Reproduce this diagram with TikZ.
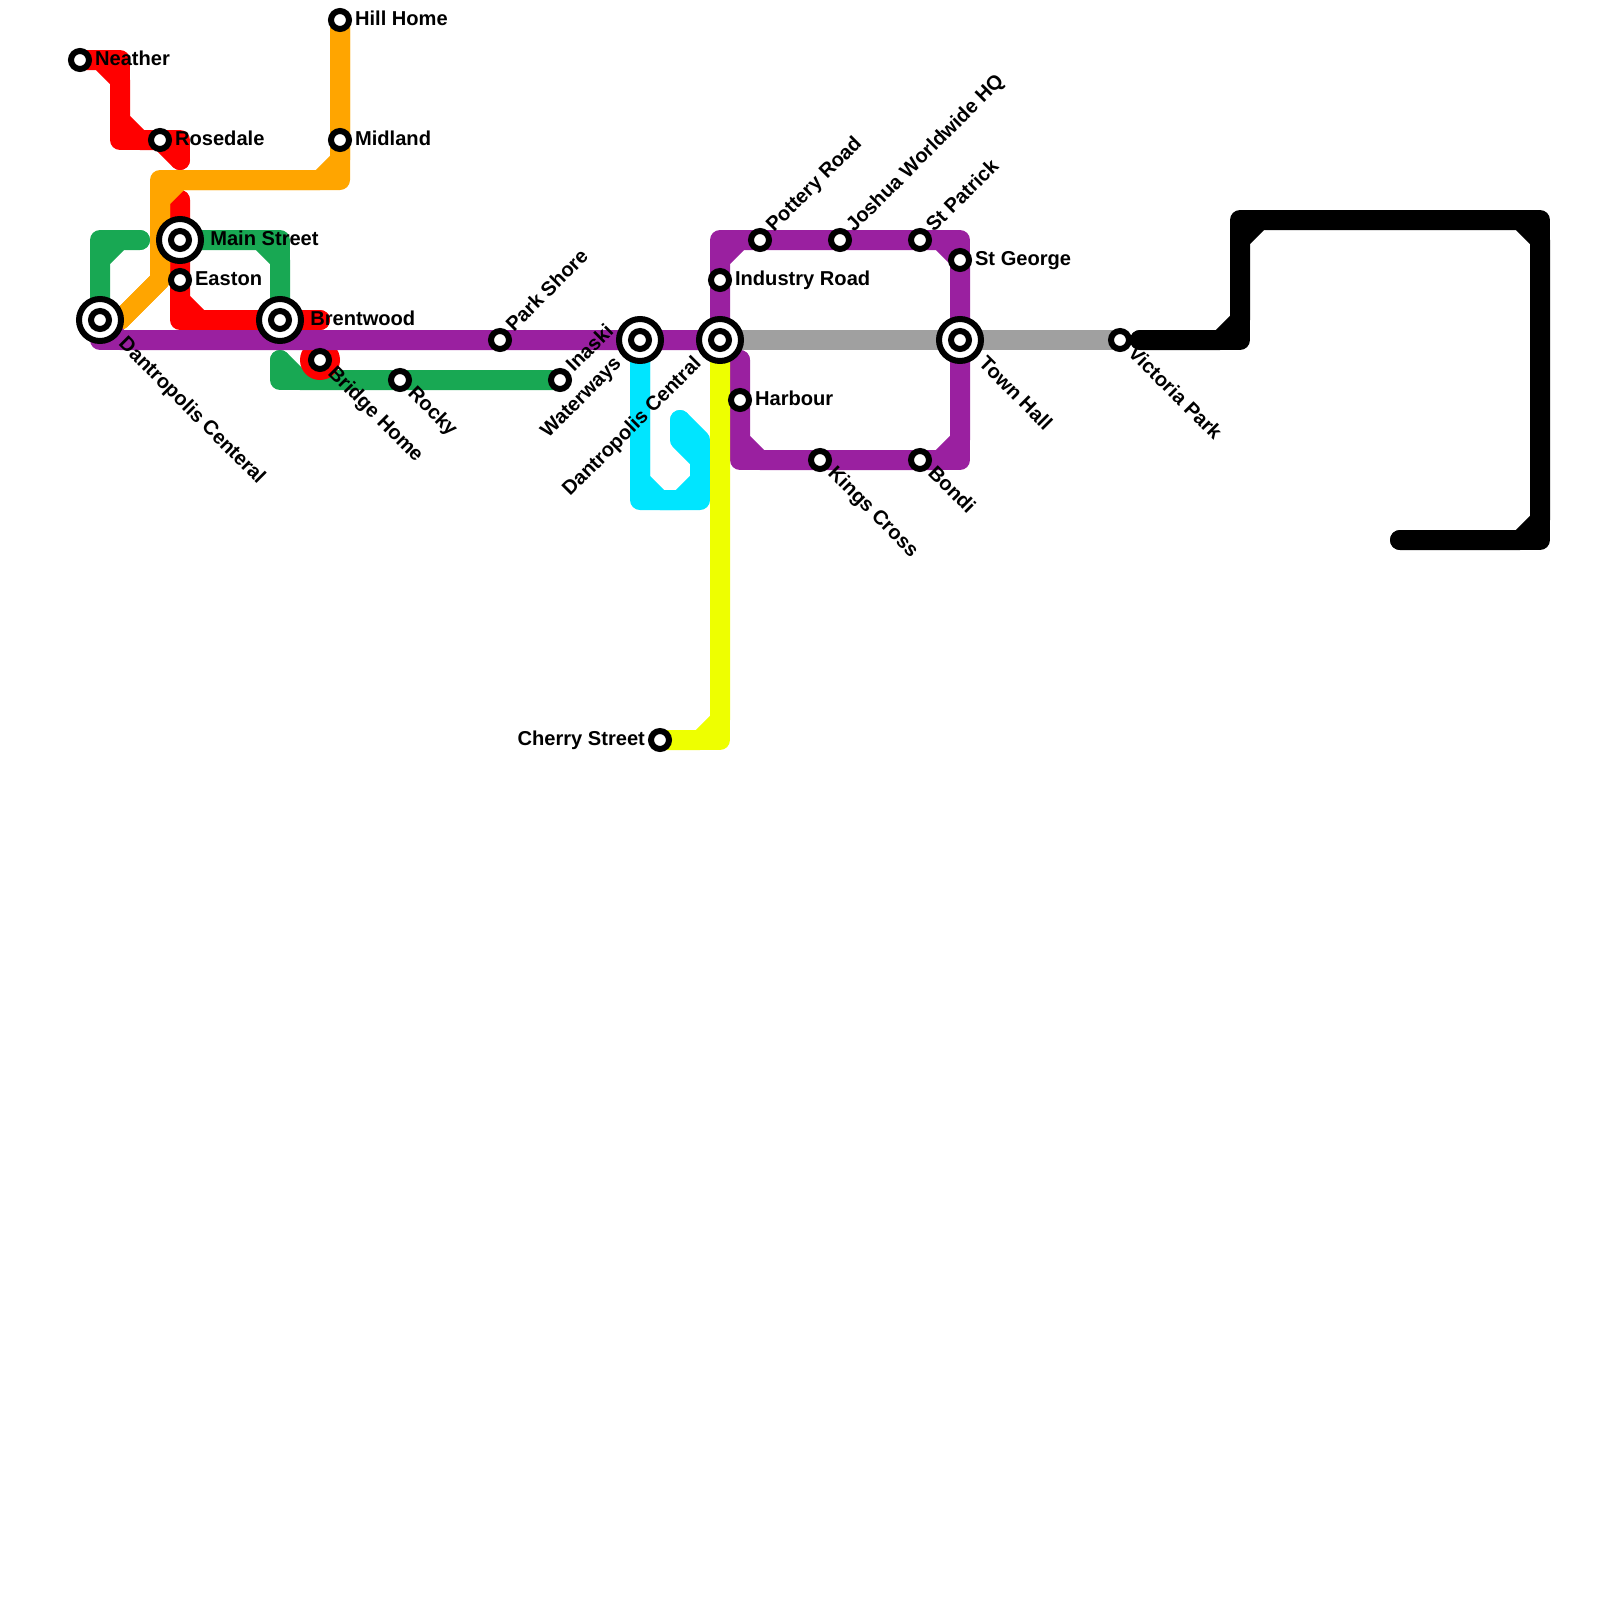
\documentclass[tikz,border=0pt]{standalone}
\usepackage{fontspec}
\setmainfont{Liberation Sans}
\usetikzlibrary{backgrounds}
\definecolor{line_red}{RGB}{255, 0, 0}
\definecolor{line_orange}{RGB}{255, 165, 0}
\definecolor{line_green}{RGB}{24, 168, 83}
\definecolor{line_purple}{RGB}{154, 32, 160}
\definecolor{line_gray}{RGB}{160, 160, 160}
\definecolor{line_cyan}{RGB}{0, 229, 255}
\definecolor{line_yellow}{RGB}{238, 255, 0}
\tikzset{
  metroline/.style={line width=0.5cm, line cap=round, line join=round},
  station/.style={circle, draw=black, fill=white, line width=0.15cm, inner sep=0pt, outer sep=0pt, minimum size=0.45cm},
  hub/.style={circle, draw=black, fill=white, line width=0.15cm, inner sep=0pt, outer sep=0pt, minimum size=1.05cm},
  stationtext/.style={font=\fontsize{14.3}{16}\selectfont\bfseries, inner sep=0pt},
  labelright/.style={stationtext, anchor=base west, xshift=#1, yshift=-0.125cm},
  labelright/.default=0.37cm,
  labelleft/.style={stationtext, anchor=base east, xshift=-#1, yshift=-0.125cm},
  labelleft/.default=0.37cm,
  labelup/.style={stationtext, rotate=45, anchor=base west, xshift=#1, yshift=-0.125cm},
  labelup/.default=0.37cm,
  labelupleft/.style={stationtext, rotate=45, anchor=base east, xshift=-#1, yshift=-0.125cm},
  labelupleft/.default=0.37cm,
  labeldown/.style={stationtext, rotate=-45, anchor=base west, xshift=#1, yshift=-0.125cm},
  labeldown/.default=0.37cm,
}
\begin{document}
\begin{tikzpicture}[x=0.5cm, y=-0.5cm]
      \useasboundingbox (0,0) rectangle (80,80);

      % 1. Stations
      \node[station] (neather) at (4,3) {};
      \node[station] (rosedale) at (8,7) {};
      \node[station] (hillhome) at (17,1) {};
      \node[station] (midland) at (17,7) {};
      \node[hub] (mainstreet) at (9,12) {};
      \node[station] (mainstreetcore) at (mainstreet) {};
      \node[station] (easton) at (9,14) {};
      \node[hub] (centeral) at (5,16) {};
      \node[station] (centeralcore) at (centeral) {};
      \node[hub] (brentwood) at (14,16) {};
      \node[station] (brentwoodcore) at (brentwood) {};
      \node[station] (bridgehome) at (16,18) {};
      \node[station] (rocky) at (20,19) {};
      \node[station] (parkshore) at (25,17) {};
      \node[station] (inaski) at (28,19) {};
      \node[hub] (waterways) at (32,17) {};
      \node[station] (waterwayscore) at (waterways) {};
      \node[hub] (central) at (36,17) {};
      \node[station] (centralcore) at (central) {};
      \node[station] (industry) at (36,14) {};
      \node[station] (pottery) at (38,12) {};
      \node[station] (joshua) at (42,12) {};
      \node[station] (stpatrick) at (46,12) {};
      \node[station] (stgeorge) at (48,13) {};
      \node[hub] (townhall) at (48,17) {};
      \node[station] (townhallcore) at (townhall) {};
      \node[station] (harbour) at (37,20) {};
      \node[station] (kingscross) at (41,23) {};
      \node[station] (bondi) at (46,23) {};
      \node[station] (victoria) at (56,17) {};
      \node[station] (cherry) at (33,37) {};

      % 2. Lines, each one square and then with its corners cut
      \begin{scope}[on background layer]
      % Green
      \draw[metroline, line_green] (7,12) -- (5,12) -- (centeral.center);
      \draw[metroline, line_green] (7,12) -- (6,12) -- (5,13) -- (centeral.center);
      \draw[metroline, line_green] (mainstreet.center) -- (14,12) -- (brentwood.center);
      \draw[metroline, line_green] (mainstreet.center) -- (13,12) -- (14,13) -- (brentwood.center);
      \draw[metroline, line_green] (14,18) -- (14,19) -- (inaski.center);
      \draw[metroline, line_green] (14,18) -- (15,19) -- (inaski.center);

      % Red
      \draw[metroline, line_red] (neather.center) -- (6,3) -- (6,7) -- (9,7) -- (9,8);
      \draw[metroline, line_red] (neather.center) -- (5,3) -- (6,4) -- (6,6) -- (7,7) -- (8,7) -- (9,8);
      \draw[metroline, line_red] (9,10) -- (9,16) -- (16,16);
      \draw[metroline, line_red] (9,10) -- (9,15) -- (10,16) -- (16,16);
      \fill[line_red] (bridgehome.center) circle (0.5cm);

      % Orange
      \draw[metroline, line_orange] (hillhome.center) -- (17,9) -- (8,9) -- (8,14) -- (6,16);
      \draw[metroline, line_orange] (hillhome.center) -- (17,8) -- (16,9) -- (9,9) -- (8,10) -- (8,14) -- (6,16);

      % Gray
      \draw[metroline, line_gray] (central.center) -- (victoria.center);

      % Purple
      \draw[metroline, line_purple] (centeral.center) -- (5,17) -- (central.center) -- (36,12) -- (48,12) -- (48,23) -- (37,23) -- (37,18) -- (36,18);
      \draw[metroline, line_purple] (centeral.center) -- (6,17) -- (central.center) -- (36,13) -- (37,12) -- (47,12) -- (48,13) -- (48,22) -- (47,23) -- (38,23) -- (37,22) -- (37,18);

      % Cyan
      \draw[metroline, line_cyan] (waterways.center) -- (32,25) -- (35,25) -- (35,22) -- (34,21);
      \draw[metroline, line_cyan] (waterways.center) -- (32,24) -- (33,25) -- (34,25) -- (35,24) -- (35,23) -- (34,22) -- (34,21);

      % Yellow
      \draw[metroline, line_yellow] (central.center) -- (36,37) -- (cherry.center);
      \draw[metroline, line_yellow] (central.center) -- (36,36) -- (35,37) -- (cherry.center);

      % Black
      \draw[metroline, black] (70,27) -- (77,27) -- (77,11) -- (62,11) -- (62,17) -- (57,17);
      \draw[metroline, black] (70,27) -- (76,27) -- (77,26) -- (77,12) -- (76,11) -- (63,11) -- (62,12) -- (62,16) -- (61,17) -- (57,17);
      \end{scope}

      % 3. Station names
      \node[labelright] (neatherlabel) at (neather) {Neather};
      \node[labelright] (rosedalelabel) at (rosedale) {Rosedale};
      \node[labelright] (hillhomelabel) at (hillhome) {Hill Home};
      \node[labelright] (midlandlabel) at (midland) {Midland};
      \node[labelright=0.75cm] (mainstreetlabel) at (mainstreet) {Main Street};
      \node[labelright] (eastonlabel) at (easton) {Easton};
      \node[labeldown=0.75cm] (centerallabel) at (centeral) {Dantropolis Centeral};
      \node[labelright=0.75cm] (brentwoodlabel) at (brentwood) {Brentwood};
      \node[labeldown] (bridgehomelabel) at (bridgehome) {Bridge Home};
      \node[labeldown] (rockylabel) at (rocky) {Rocky};
      \node[labelup] (parkshorelabel) at (parkshore) {Park Shore};
      \node[labelup] (inaskilabel) at (inaski) {Inaski};
      \node[labelupleft=0.75cm] (waterwayslabel) at (waterways) {Waterways};
      \node[labelupleft=0.75cm] (centrallabel) at (central) {Dantropolis Central};
      \node[labelright] (industrylabel) at (industry) {Industry Road};
      \node[labelup] (potterylabel) at (pottery) {Pottery Road};
      \node[labelup] (joshualabel) at (joshua) {Joshua Worldwide HQ};
      \node[labelup] (stpatricklabel) at (stpatrick) {St Patrick};
      \node[labelright] (stgeorgelabel) at (stgeorge) {St George};
      \node[labeldown=0.75cm] (townhalllabel) at (townhall) {Town Hall};
      \node[labelright] (harbourlabel) at (harbour) {Harbour};
      \node[labeldown] (kingscrosslabel) at (kingscross) {Kings Cross};
      \node[labeldown] (bondilabel) at (bondi) {Bondi};
      \node[labeldown] (victorialabel) at (victoria) {Victoria Park};
      \node[labelleft] (cherrylabel) at (cherry) {Cherry Street};

\end{tikzpicture}
\end{document}
